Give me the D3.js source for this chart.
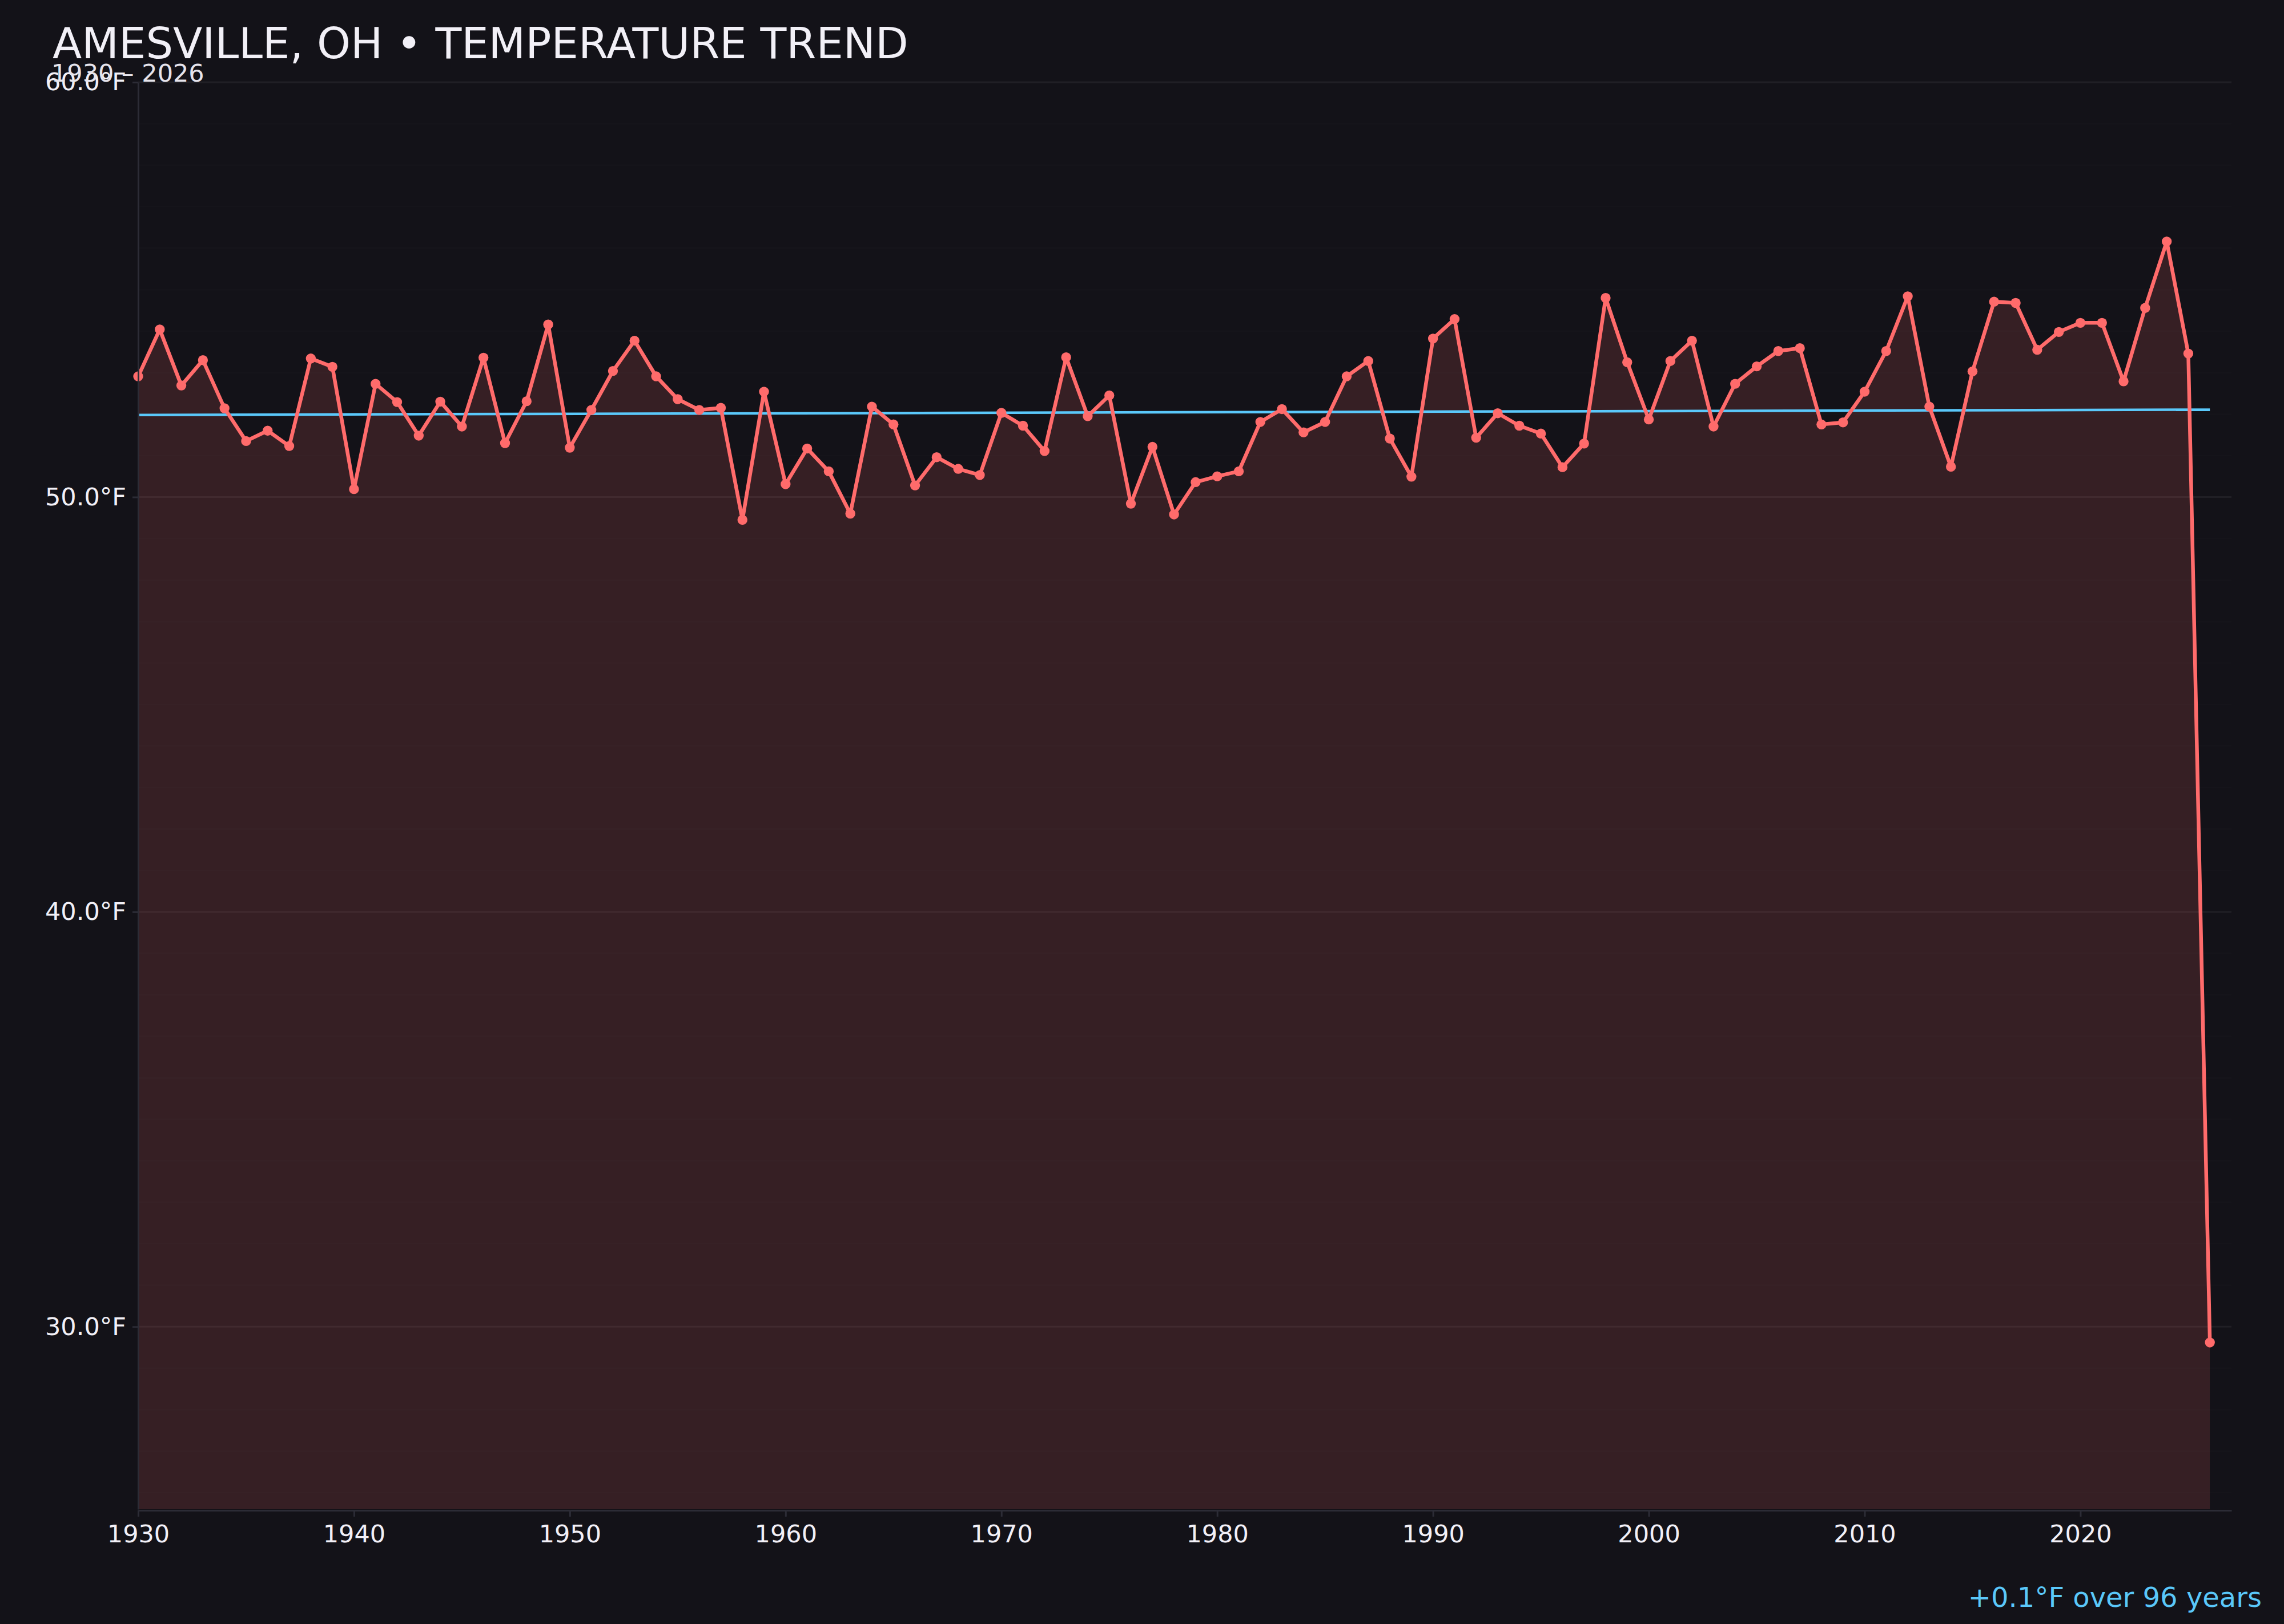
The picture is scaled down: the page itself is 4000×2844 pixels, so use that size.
<!DOCTYPE html>
<html>
<head>
<meta charset="utf-8">
<script src="https://cdn.jsdelivr.net/npm/d3@7"></script>
<style>
  html, body { margin: 0; padding: 0; background: #131218; }
  svg { display: block; font-family: "DejaVu Sans", sans-serif; }
</style>
</head>
<body>
<div id="chart"></div>
<script>
// yearly mean temperature
const years = d3.range(1930, 2027);
const temps = [
  52.91, 54.04, 52.69, 53.30, 52.14, 51.35, 51.60, 51.23, 53.34, 53.14,
  50.19, 52.73, 52.29, 51.48, 52.30, 51.70, 53.36, 51.30, 52.31, 54.16,
  51.19, 52.10, 53.04, 53.77, 52.91, 52.36, 52.10, 52.15, 49.45, 52.54,
  50.31, 51.17, 50.62, 49.60, 52.18, 51.75, 50.28, 50.96, 50.68, 50.53,
  52.03, 51.72, 51.11, 53.37, 51.95, 52.45, 49.84, 51.21, 49.58, 50.36,
  50.50, 50.62, 51.81, 52.12, 51.56, 51.81, 52.91, 53.28, 51.41, 50.49,
  53.82, 54.29, 51.43, 52.02, 51.72, 51.53, 50.72, 51.29, 54.80, 53.25,
  51.87, 53.28, 53.77, 51.70, 52.73, 53.15, 53.52, 53.59, 51.75, 51.80,
  52.54, 53.52, 54.84, 52.18, 50.73, 53.03, 54.71, 54.68, 53.55, 53.98,
  54.20, 54.20, 52.79, 54.56, 56.16, 53.46, 29.62
];
const xTicks = [1930, 1940, 1950, 1960, 1970, 1980, 1990, 2000, 2010, 2020];
const yTicks = [30, 40, 50, 60];
const titleText = "AMESVILLE, OH \u2022 TEMPERATURE TREND";
const subtitleText = "1930 \u2013 2026";
const trendText = "+0.1\u00B0F over 96 years";

const width = 4000, height = 2844;
const margin = {top: 144, right: 92, bottom: 201, left: 242};
const w = width - margin.left - margin.right;
const h = height - margin.top - margin.bottom;

const data = years.map((yr, i) => ({year: yr, t: temps[i]}));

const svg = d3.select("#chart").append("svg")
    .attr("width", width)
    .attr("height", height);

svg.append("rect").attr("width", width).attr("height", height).attr("fill", "#131218");

const g = svg.append("g").attr("transform", `translate(${margin.left}, ${margin.top})`);

const x = d3.scaleLinear().domain([1930, 2027]).range([0, w]);
const y = d3.scaleLinear().domain([25.6, 60]).range([h, 0]);

// faint grid every degree, a bit stronger on labelled ticks
g.append("g").selectAll("line")
    .data(d3.range(26, 61))
    .join("line")
    .attr("x1", 0).attr("x2", w)
    .attr("y1", d => y(d)).attr("y2", d => y(d))
    .attr("stroke", "#ffffff")
    .attr("stroke-opacity", d => d % 10 === 0 ? 0.06 : 0.012)
    .attr("stroke-width", 3);

// area under the line
g.append("path")
    .datum(data)
    .attr("fill", "#ff6b6b")
    .attr("fill-opacity", 0.15)
    .attr("d", d3.area().x(d => x(d.year)).y0(h).y1(d => y(d.t)));

// least squares trend
const mx = d3.mean(years), my = d3.mean(temps);
const slope = d3.sum(data, d => (d.year - mx) * (d.t - my)) / d3.sum(data, d => (d.year - mx) ** 2);
const trend = [years[0], years[years.length - 1]].map(yr => ({year: yr, t: my + slope * (yr - mx)}));

g.append("path")
    .datum(trend)
    .attr("fill", "none")
    .attr("stroke", "#5ac8fa")
    .attr("stroke-width", 4.5)
    .attr("d", d3.line().x(d => x(d.year)).y(d => y(d.t)));

g.append("path")
    .datum(data)
    .attr("fill", "none")
    .attr("stroke", "#ff6b6b")
    .attr("stroke-width", 6.5)
    .attr("stroke-linejoin", "round")
    .attr("d", d3.line().x(d => x(d.year)).y(d => y(d.t)));

g.append("g").selectAll("circle")
    .data(data)
    .join("circle")
    .attr("cx", d => x(d.year))
    .attr("cy", d => y(d.t))
    .attr("r", 8.7)
    .attr("fill", "#ff6b6b");

// axes
const xAxis = g.append("g")
    .attr("transform", `translate(0, ${h + 2})`)
    .call(d3.axisBottom(x).tickValues(xTicks).tickFormat(d3.format("d")).tickSize(11).tickPadding(14).tickSizeOuter(0));

const yAxis = g.append("g")
    .call(d3.axisLeft(y).tickValues(yTicks).tickFormat(d => d.toFixed(1) + "\u00B0F").tickSize(10).tickPadding(11).tickSizeOuter(0));

[xAxis, yAxis].forEach(a => {
    a.select(".domain").attr("stroke", "#2c2c36").attr("stroke-width", 3);
    a.selectAll(".tick line").attr("stroke", "#2c2c36").attr("stroke-width", 3);
    a.selectAll(".tick text")
        .attr("fill", "#f2f0f7")
        .style("font-family", "'DejaVu Sans', sans-serif")
        .style("font-size", "43px");
});

// titles
svg.append("text")
    .attr("x", 92).attr("y", 102)
    .attr("fill", "#f2f0f7")
    .style("font-size", "75px")
    .text(titleText);

svg.append("text")
    .attr("x", 90).attr("y", 143)
    .attr("fill", "#e6e4ec")
    .style("font-size", "43px")
    .text(subtitleText);

svg.append("text")
    .attr("x", 3961).attr("y", 2814)
    .attr("text-anchor", "end")
    .attr("fill", "#5ac8fa")
    .style("font-size", "48px")
    .text(trendText);
</script>
</body>
</html>
